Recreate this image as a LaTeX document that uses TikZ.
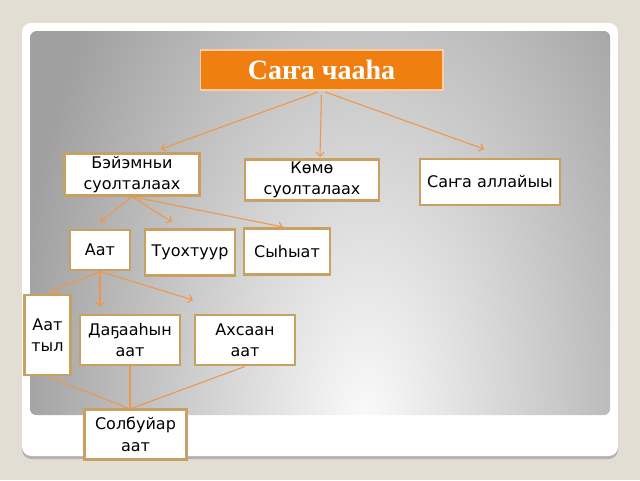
\documentclass[tikz,border=0pt]{standalone}
\usepackage{fontspec}
\newfontfamily\boxfont{DejaVu Sans}
\newfontfamily\titlefont{Liberation Serif}
\usetikzlibrary{arrows.meta}
\definecolor{bgbeige}{RGB}{227,222,212}
\definecolor{boxtan}{RGB}{200,160,100}
\definecolor{arrorange}{RGB}{240,150,75}
\definecolor{titleorange}{RGB}{238,127,16}
\definecolor{titlerim}{RGB}{250,205,165}
\definecolor{paneldark}{RGB}{160,160,160}
\definecolor{panellight}{RGB}{250,250,250}
\tikzset{
  wbox/.style={draw=boxtan,line width=2.2pt,fill=white,align=center,inner sep=1pt,
    font=\boxfont\fontsize{12}{16}\selectfont},
  titlebox/.style={fill=titleorange,draw=titlerim,line width=1pt,text=white,
    font=\titlefont\bfseries\fontsize{21}{24}\selectfont,minimum width=182pt,minimum height=30pt},
  arr/.style={draw=arrorange,line width=0.8pt,-{Straight Barb[length=3pt,width=6pt]}},
  lnk/.style={draw=arrorange!80!boxtan,line width=0.8pt},
}

\begin{document}
\begin{tikzpicture}[x=0.75pt,y=-0.75pt]
\fill[bgbeige] (0,0) rectangle (640,480);
\useasboundingbox (0,0) rectangle (640,480);
\fill[black!30,rounded corners=7] (22,26) rectangle (618,459);
\fill[white,rounded corners=7] (22,23) rectangle (618,456);
\begin{scope}
\clip[rounded corners=5] (30,31) rectangle (610,415);
\fill[paneldark] (30,31) rectangle (610,415);
\shade[inner color=panellight,outer color=paneldark] (365,420) ellipse [x radius=265pt,y radius=480pt];
\end{scope}

\node[titlebox] (title) at (321.5,70) {Саҥа чааһа};

\node[wbox,minimum width=101pt,minimum height=31pt] (bsu) at (132,174.5) {Бэйэмньи\\суолталаах};
\node[wbox,minimum width=100.5pt,minimum height=31pt] (ksu) at (312,180) {Көмө\\суолталаах};
\node[wbox,minimum width=105pt,minimum height=34.5pt] (sal) at (490,182) {Саҥа аллайыы};

\node[wbox,minimum width=45pt,minimum height=30pt] (aat) at (100,250) {Аат};
\node[wbox,minimum width=67.5pt,minimum height=34pt] (tuox) at (190,252.5) {Туохтуур};
\node[wbox,minimum width=64.5pt,minimum height=35pt] (syh) at (287,251.5) {Сыһыат};

\node[wbox,minimum width=34pt,minimum height=60pt] (aattyl) at (47.5,335) {Аат\\тыл};
\node[wbox,minimum width=75pt,minimum height=37.5pt] (daga) at (130,340) {Даҕааһын\\аат};
\node[wbox,minimum width=75pt,minimum height=37.5pt] (axs) at (245,340) {Ахсаан\\аат};

\node[wbox,minimum width=76pt,minimum height=38pt] (solb) at (135.5,434.5) {Солбуйар\\аат};

\coordinate (t1) at (161,149);
\coordinate (t2) at (320,157);
\coordinate (t3) at (484,149);
\coordinate (b1) at (100,222);
\coordinate (b2) at (172,222);
\coordinate (b3) at (283,227);
\coordinate (a1) at (50,292);
\coordinate (a2) at (100,307);
\coordinate (a3) at (193,300);
\coordinate (meet) at (130,409);

\draw[arr,shorten <=3pt] (title.south) -- (t1);
\draw[arr,shorten <=3pt] (title.south) -- (t2);
\draw[arr,shorten <=3pt] (title.south) -- (t3);
\draw[arr] (bsu.south) -- (b1);
\draw[arr] (bsu.south) -- (b2);
\draw[arr] (bsu.south) -- (b3);
\draw[arr] (aat.south) -- (a1);
\draw[arr] (aat.south) -- (a2);
\draw[arr] (aat.south) -- (a3);
\draw[lnk] (aattyl.south) -- (meet);
\draw[lnk] (daga.south) -- (meet);
\draw[lnk] (axs.south) -- (meet);
\end{tikzpicture}
\end{document}
